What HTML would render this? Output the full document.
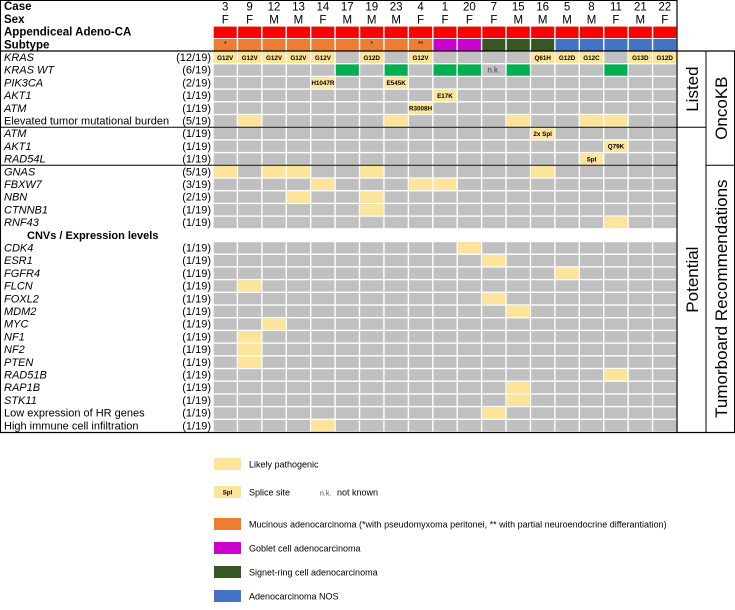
<!DOCTYPE html>
<html><head><meta charset="utf-8">
<style>
html,body{margin:0;padding:0;background:#fff;}
svg{display:block;font-family:"Liberation Sans",Arial,sans-serif;}
</style></head>
<body>
<svg id="chart" width="735" height="610" viewBox="0 0 735 610"></svg>
<script>
const cases=["3","9","12","13","14","17","19","23","4","1","20","7","15","16","5","8","11","21","22"];
const sexes=["F","F","M","M","F","M","M","M","F","F","F","F","M","M","M","M","F","M","F"];
const subtypes=["muc","muc","muc","muc","muc","muc","muc","muc","muc","gob","gob","sig","sig","sig","nos","nos","nos","nos","nos"];
const subtypeMarks=["*","","","","","","*","","**","","","","","","","","","",""];
const rowLabels=["KRAS","KRAS WT","PIK3CA","AKT1","ATM","Elevated tumor mutational burden","ATM","AKT1","RAD54L","GNAS","FBXW7","NBN","CTNNB1","RNF43","__CNV__","CDK4","ESR1","FGFR4","FLCN","FOXL2","MDM2","MYC","NF1","NF2","PTEN","RAD51B","RAP1B","STK11","Low expression of HR genes","High immune cell infiltration"];
const rowItalic=[1,1,1,1,1,0,1,1,1,1,1,1,1,1,0,1,1,1,1,1,1,1,1,1,1,1,1,1,0,0];
const rowCounts=["(12/19)","(6/19)","(2/19)","(1/19)","(1/19)","(5/19)","(1/19)","(1/19)","(1/19)","(5/19)","(3/19)","(2/19)","(1/19)","(1/19)","","(1/19)","(1/19)","(1/19)","(1/19)","(1/19)","(1/19)","(1/19)","(1/19)","(1/19)","(1/19)","(1/19)","(1/19)","(1/19)","(1/19)","(1/19)"];
// hits: [row, col, type, label]  type: y=yellow, g=green, n=n.k.
const hits=[
[0,0,"y","G12V"],[0,1,"y","G12V"],[0,2,"y","G12V"],[0,3,"y","G12V"],[0,4,"y","G12V"],[0,6,"y","G12D"],[0,8,"y","G12V"],[0,13,"y","Q61H"],[0,14,"y","G12D"],[0,15,"y","G12C"],[0,17,"y","G13D"],[0,18,"y","G12D"],
[1,5,"g",""],[1,7,"g",""],[1,9,"g",""],[1,10,"g",""],[1,12,"g",""],[1,16,"g",""],[1,11,"n","n.k."],
[2,4,"y","H1047R"],[2,7,"y","E545K"],[3,9,"y","E17K"],[4,8,"y","R3008H"],
[5,1,"y",""],[5,7,"y",""],[5,12,"y",""],[5,15,"y",""],[5,16,"y",""],
[6,13,"y","2x Spl"],[7,16,"y","Q79K"],[8,15,"y","Spl"],
[9,0,"y",""],[9,2,"y",""],[9,3,"y",""],[9,6,"y",""],[9,13,"y",""],
[10,4,"y",""],[10,8,"y",""],[10,9,"y",""],
[11,3,"y",""],[11,6,"y",""],[12,6,"y",""],[13,16,"y",""],
[15,10,"y",""],[16,11,"y",""],[17,14,"y",""],[18,1,"y",""],[19,11,"y",""],[20,12,"y",""],[21,2,"y",""],
[22,1,"y",""],[23,1,"y",""],[24,1,"y",""],[25,16,"y",""],[26,12,"y",""],[27,12,"y",""],[28,11,"y",""],[29,4,"y",""]
];
const legendLabels=["Likely pathogenic","Splice site","Mucinous adenocarcinoma (*with pseudomyxoma peritonei, ** with partial neuroendocrine differantiation)","Goblet cell adenocarcinoma","Signet-ring cell adenocarcinoma","Adenocarcinoma NOS"];

const NS="http://www.w3.org/2000/svg";
const svg=document.getElementById("chart");
const X0=213,CW=24.42,Y0=51,RH=12.7,GRID_R=677;
const colX=c=>X0+c*CW;
const rowY=r=>Y0+r*RH;
const COL={gray:"#c0c0c0",y:"#fde49b",g:"#00b050",red:"#ff0000",muc:"#ed7d31",gob:"#cc00cc",sig:"#375623",nos:"#4472c4"};
function el(t,a,p){const e=document.createElementNS(NS,t);for(const k in a)e.setAttribute(k,a[k]);(p||svg).appendChild(e);return e;}
function txt(x,y,s,a){const e=el("text",Object.assign({x:x,y:y,"font-size":11,fill:"#000"},a||{}));e.textContent=s;return e;}

// header rows
const hdr=["Case","Sex","Appendiceal Adeno-CA","Subtype"];
hdr.forEach((h,i)=>{const t=txt(4,Y0-4*RH+i*RH+10,h,{"font-weight":"bold","font-size":11.5});

});
cases.forEach((c,i)=>{
 const t=txt(colX(i)+CW/2,Y0-4*RH+10.5,c,{"text-anchor":"middle","font-size":11.5});
 
 
 const s=txt(colX(i)+CW/2,Y0-3*RH+10.5,sexes[i],{"text-anchor":"middle","font-size":11.5});
 
 
 const r=el("rect",{x:colX(i)+0.7,y:Y0-2*RH+1,width:CW-1.4,height:RH-1.3,fill:COL.red});
 
 
 const st=el("rect",{x:colX(i)+0.7,y:Y0-RH+0.6,width:CW-1.4,height:RH-0.6,fill:COL[subtypes[i]]});
 
 
 if(subtypeMarks[i]){const m=txt(colX(i)+CW/2,Y0-RH+7.5,subtypeMarks[i],{"text-anchor":"middle","font-size":7});
 
 }
});

// body rows
rowLabels.forEach((lab,r)=>{
 const y=rowY(r);
 if(lab==="__CNV__"){
  const t=txt(27,y+10,"CNVs / Expression levels",{"font-weight":"bold","font-size":11});
  
  
  return;
 }
 const t=txt(4,y+10,lab,{"font-style":rowItalic[r]?"italic":"normal","font-size":11});
 
 
 const c=txt(211,y+10,rowCounts[r],{"text-anchor":"end","font-size":11});
 
 
 for(let i=0;i<cases.length;i++){
  const cell=el("rect",{x:colX(i)+0.7,y:y+0.7,width:CW-1.4,height:RH-1.4,fill:COL.gray});
  
  
 }
});
if(false){}
hits.forEach(h=>{
 const [r,c,t,lab]=h;
 const y=rowY(r);
 if(t!=="n"){
  const cell=el("rect",{x:colX(c)+0.7,y:y+0.7,width:CW-1.4,height:RH-1.4,fill:COL[t]});
  
  
 }
 if(lab){
  const s=txt(colX(c)+CW/2,y+8.8,lab,{"text-anchor":"middle","font-size":t==="n"?8:6.3,"font-weight":t==="n"?"normal":"bold",fill:t==="n"?"#444":"#000"});
  
  
 }
});

// frame lines
function line(x1,y1,x2,y2,w,nm){const l=el("line",{x1:x1,y1:y1,x2:x2,y2:y2,stroke:"#000","stroke-width":w||1});
 
 return l;}
line(0.5,0,0.5,432.5,1,'frame-left');
line(0,0.5,GRID_R,0.5,1,'frame-top');
line(GRID_R,0,GRID_R,432.5,1.2,'frame-right');
line(0,432.5,735,432.5,1.2,'frame-bottom');
line(0,Y0,735,Y0,1.2,'header-divider');
line(0,rowY(6),706,rowY(6),1,'listed-divider');
line(0,rowY(9),GRID_R,rowY(9),1,'oncokb-divider');
line(706,rowY(9),735,rowY(9),1,'oncokb-divider-right');
line(706,Y0,706,432.5,1,'category-divider');
line(734.5,Y0,734.5,432.5,1,'frame-far-right');

// side labels
function vlab(x,y,s,nm){const t=txt(x,y,s,{"font-size":17,"text-anchor":"middle",transform:`rotate(-90 ${x} ${y})`});
 }
vlab(698,(Y0+rowY(6))/2,"Listed",'listed-label');
vlab(698,(rowY(6)+432)/2,"Potential",'potential-label');
vlab(727,(Y0+rowY(9))/2,"OncoKB",'oncokb-label');
vlab(727,(rowY(9)+432)/2,"Tumorboard Recommendations",'tumorboard-label');

// legend
const LX=214,LW=27;
const lg=[[458,COL.y,""],[486,COL.y,"Spl"],[518,COL.muc,""],[542,COL.gob,""],[566,COL.sig,""],[590,COL.nos,""]];
lg.forEach((g,i)=>{
 const r=el("rect",{x:LX,y:g[0],width:LW,height:12,fill:g[1]});
 
 
 if(g[2]){const s=txt(LX+LW/2,g[0]+8.5,g[2],{"text-anchor":"middle","font-size":6.3,"font-weight":"bold"});
 
 }
 const t=txt(249,g[0]+9.5,legendLabels[i],{"font-size":9});
 
 
});
const nk=txt(320,495.5,"n.k.",{"font-size":7,fill:"#444"});


const nk2=txt(337,495.5,"not known",{"font-size":9});


</script>
</body></html>
